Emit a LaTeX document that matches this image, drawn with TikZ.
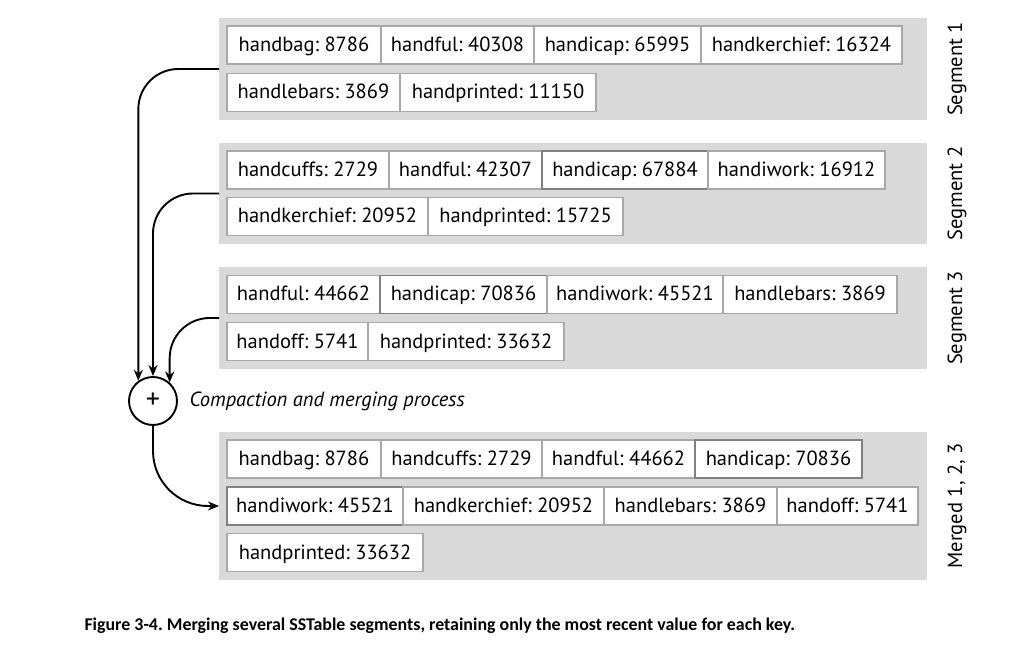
\documentclass[tikz,border=0pt]{standalone}
\usepackage{fontspec}
\setmainfont{PT Sans}
\newfontfamily\capfont{Carlito}
\usetikzlibrary{arrows.meta,positioning}
\frenchspacing

\definecolor{panelgray}{HTML}{D9D9D9}
\definecolor{cellline}{HTML}{A8A8A8}
\definecolor{celldark}{HTML}{808080}

\tikzset{
  panel/.style={fill=panelgray, draw=none, anchor=north west, inner sep=0pt, outer sep=0pt},
  cell/.style={draw=cellline, line width=1.2pt, fill=white, anchor=west, inner sep=0pt,
               outer sep=0pt, minimum height=38pt, text height=16pt, text depth=3pt,
               font=\fontsize{20.5}{23}\selectfont},
  celldk/.style={cell, draw=celldark},
  seglabel/.style={rotate=90, font=\fontsize{20.5}{23}\selectfont},
  conn/.style={line width=1.9pt, -{Stealth[length=11pt,width=9pt]}},
}

\begin{document}
\begin{tikzpicture}[x=1pt,y=-1pt]
\useasboundingbox (0,0) rectangle (1015,655);

% gray segment panels
\node[panel, minimum width=708pt, minimum height=102pt] (seg1) at (219,18) {};
\node[panel, minimum width=708pt, minimum height=101pt] (seg2) at (219,143) {};
\node[panel, minimum width=708pt, minimum height=102pt] (seg3) at (219,267) {};
\node[panel, minimum width=708pt, minimum height=148pt] (merged) at (219,432) {};

% Segment 1
\node[cell, minimum width=154pt] (a1) at (227,45) {handbag: 8786};
\node[cell, minimum width=153pt] (a2) at (a1.east) {handful: 40308};
\node[cell, minimum width=167pt] (a3) at (a2.east) {handicap: 65995};
\node[cell, minimum width=201pt] (a4) at (a3.east) {handkerchief: 16324};
\node[cell, minimum width=173pt] (a5) at (227,92.5) {handlebars: 3869};
\node[cell, minimum width=196pt] (a6) at (a5.east) {handprinted: 11150};

% Segment 2
\node[cell, minimum width=162pt] (b1) at (227,170) {handcuffs: 2729};
\node[cell, minimum width=153pt] (b2) at (b1.east) {handful: 42307};
\node[celldk, minimum width=166pt] (b3) at (b2.east) {handicap: 67884};
\node[cell, minimum width=177pt] (b4) at (b3.east) {handiwork: 16912};
\node[cell, minimum width=201pt] (b5) at (227,216.5) {handkerchief: 20952};
\node[cell, minimum width=195pt] (b6) at (b5.east) {handprinted: 15725};

% Segment 3
\node[cell, minimum width=153pt] (c1) at (227,294.5) {handful: 44662};
\node[celldk, minimum width=167pt] (c2) at (c1.east) {handicap: 70836};
\node[cell, minimum width=176pt] (c3) at (c2.east) {handiwork: 45521};
\node[cell, minimum width=174pt] (c4) at (c3.east) {handlebars: 3869};
\node[cell, minimum width=141pt] (c5) at (227,341.5) {handoff: 5741};
\node[cell, minimum width=196pt] (c6) at (c5.east) {handprinted: 33632};

% Merged output
\node[cell, minimum width=154pt] (m1) at (227,459) {handbag: 8786};
\node[cell, minimum width=161pt] (m2) at (m1.east) {handcuffs: 2729};
\node[cell, minimum width=153pt] (m3) at (m2.east) {handful: 44662};
\node[celldk, minimum width=167pt] (m4) at (m3.east) {handicap: 70836};
\node[celldk, minimum width=176pt] (m5) at (227,506) {handiwork: 45521};
\node[cell, minimum width=201pt] (m6) at (m5.east) {handkerchief: 20952};
\node[cell, minimum width=173pt] (m7) at (m6.east) {handlebars: 3869};
\node[cell, minimum width=141pt] (m8) at (m7.east) {handoff: 5741};
\node[cell, minimum width=196pt] (m9) at (227,552.5) {handprinted: 33632};

% side labels
\node[seglabel] (l1) at (957,69) {Segment 1};
\node[seglabel] (l2) at (957,193.5) {Segment 2};
\node[seglabel] (l3) at (957,318) {Segment 3};
\node[seglabel] (l4) at (957,506) {Merged 1, 2, 3};

% merge operator
\node[circle, draw, line width=1.9pt, minimum size=48pt, inner sep=0pt,
      font=\fontsize{28}{30}\selectfont] (plus) at (153,401) {+};
\node[anchor=west, font=\fontsize{20.5}{23}\selectfont\itshape] (proc) at (186,401)
  {Compaction and merging process};

% connectors
\draw[conn, rounded corners=40pt] (seg1.west) -| (plus.126);
\draw[conn, rounded corners=40pt] (seg2.west) -| (plus.north);
\draw[conn, rounded corners=40pt] (seg3.west) -| (plus.48);
\draw[conn, rounded corners=55pt] (plus.south) |- (merged.west);

% caption
\node[anchor=west, font=\capfont\bfseries\fontsize{17.9}{20}\selectfont] (cap) at (81,626)
  {Figure 3-4. Merging several SSTable segments, retaining only the most recent value for each key.};
\end{tikzpicture}
\end{document}
